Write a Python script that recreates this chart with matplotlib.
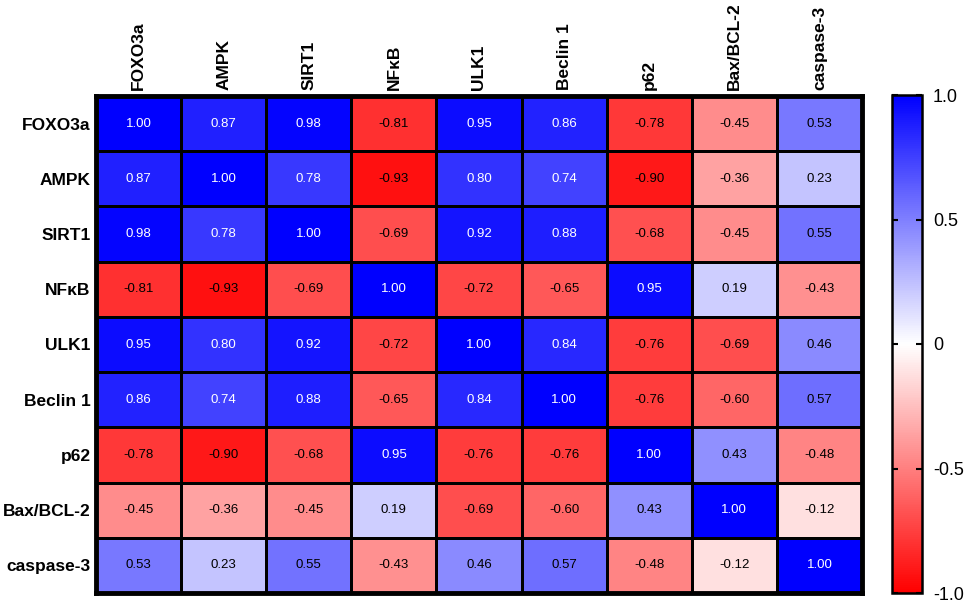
import numpy as np
import matplotlib
matplotlib.use("Agg")
import matplotlib.pyplot as plt
from matplotlib.colors import LinearSegmentedColormap

plt.rcParams['font.family'] = ['Liberation Sans', 'DejaVu Sans']

labels = ["FOXO3a", "AMPK", "SIRT1", "NFκB", "ULK1", "Beclin 1", "p62", "Bax/BCL-2", "caspase-3"]

foxo3a = [1.00, 0.87, 0.98, -0.81, 0.95, 0.86, -0.78, -0.45, 0.53]
ampk = [0.87, 1.00, 0.78, -0.93, 0.80, 0.74, -0.90, -0.36, 0.23]
sirt1 = [0.98, 0.78, 1.00, -0.69, 0.92, 0.88, -0.68, -0.45, 0.55]
nfkb = [-0.81, -0.93, -0.69, 1.00, -0.72, -0.65, 0.95, 0.19, -0.43]
ulk1 = [0.95, 0.80, 0.92, -0.72, 1.00, 0.84, -0.76, -0.69, 0.46]
beclin1 = [0.86, 0.74, 0.88, -0.65, 0.84, 1.00, -0.76, -0.60, 0.57]
p62 = [-0.78, -0.90, -0.68, 0.95, -0.76, -0.76, 1.00, 0.43, -0.48]
bax_bcl2 = [-0.45, -0.36, -0.45, 0.19, -0.69, -0.60, 0.43, 1.00, -0.12]
caspase3 = [0.53, 0.23, 0.55, -0.43, 0.46, 0.57, -0.48, -0.12, 1.00]

corr = np.array([foxo3a, ampk, sirt1, nfkb, ulk1, beclin1, p62, bax_bcl2, caspase3])

cbar_ticks = [-1.0, -0.5, 0, 0.5, 1.0]
cbar_ticklabels = ["-1.0", "-0.5", "0", "0.5", "1.0"]

cmap = LinearSegmentedColormap.from_list("rwb", ["#ff0000", "#ffffff", "#0000ff"])

W, H = 969, 602
fig = plt.figure(figsize=(W / 100, H / 100), dpi=100)

# heatmap axes placed in pixel terms
left, right, top, bottom = 96, 862, 96, 593
ax = fig.add_axes([left / W, 1 - bottom / H, (right - left) / W, (bottom - top) / H])

n = len(labels)
mesh = ax.pcolormesh(corr, cmap=cmap, vmin=-1, vmax=1,
                     edgecolors="black", linewidth=0.8)
ax.set_xlim(0, n)
ax.set_ylim(n, 0)

for i in range(n):
    for j in range(n):
        v = corr[i, j]
        color = "white" if v > 0.6 else "black"
        ax.text(j + 0.5, i + 0.5, f"{v:.2f}", ha="center", va="center",
                fontsize=9.5, color=color)

ax.xaxis.tick_top()
ax.set_xticks(np.arange(n) + 0.5)
ax.set_xticklabels(labels, rotation=90, fontsize=12.5, fontweight="bold")
ax.set_yticks(np.arange(n) + 0.5)
ax.set_yticklabels(labels, fontsize=12.5, fontweight="bold")
ax.tick_params(length=0, pad=4)
for s in ax.spines.values():
    s.set_linewidth(3.5)

# colorbar
cl, cr, ct, cb = 892, 922, 95, 593
cax = fig.add_axes([cl / W, 1 - cb / H, (cr - cl) / W, (cb - ct) / H])
cbar = fig.colorbar(mesh, cax=cax)
cbar.set_ticks(cbar_ticks)
cbar.set_ticklabels(cbar_ticklabels)
cbar.outline.set_linewidth(1.8)
cax.tick_params(axis="y", which="both", direction="in", length=4, width=1.5,
                left=True, right=True, labelsize=13, pad=8)

fig.savefig("out.png", dpi=100)
